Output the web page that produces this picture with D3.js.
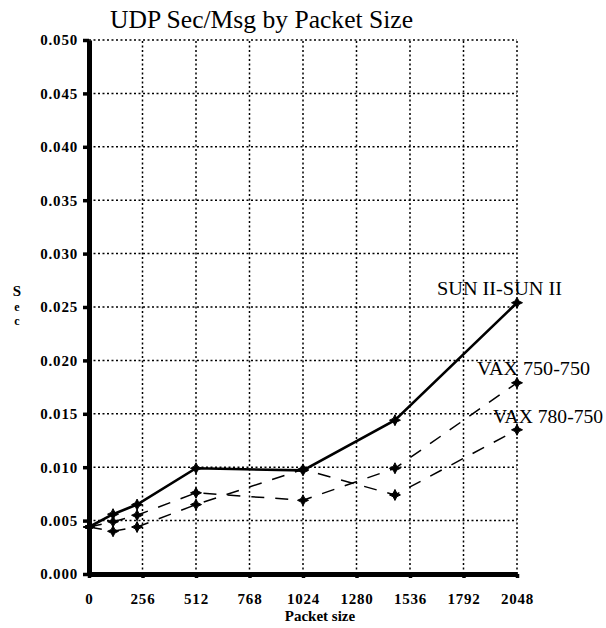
<!DOCTYPE html>
<html>
<head>
<meta charset="utf-8">
<script src="https://cdn.jsdelivr.net/npm/d3@7"></script>
<style>
  html, body { margin: 0; padding: 0; background: #fff; }
  svg { display: block; }
</style>
</head>
<body>
<script>
// ---- data ----
const packetSizes = [0, 115, 230, 512, 1024, 1464, 2048];
const sunSun   = [0.0044, 0.0056, 0.0065, 0.0099, 0.0097, 0.0144, 0.0254];
const vax750   = [0.0044, 0.0049, 0.0055, 0.0076, 0.0069, 0.0099, 0.0179];
const vax780   = [0.0044, 0.0040, 0.0044, 0.0065, 0.0098, 0.0074, 0.0135];
const seriesNames = ["SUN II-SUN II", "VAX 750-750", "VAX 780-750"];
const xTickValues = [0, 256, 512, 768, 1024, 1280, 1536, 1792, 2048];
const xTickLabels = ["0", "256", "512", "768", "1024", "1280", "1536", "1792", "2048"];
const yTickValues = [0, 0.005, 0.01, 0.015, 0.02, 0.025, 0.03, 0.035, 0.04, 0.045, 0.05];
const yTickLabels = ["0.000", "0.005", "0.010", "0.015", "0.020", "0.025", "0.030", "0.035", "0.040", "0.045", "0.050"];
const titleText = "UDP Sec/Msg by Packet Size";
const xTitle = "Packet size";
const yTitle = ["S", "e", "c"];

// ---- layout ----
const W = 606, H = 628;
const svg = d3.select("body").append("svg").attr("width", W).attr("height", H)
  .style("background", "#fff");

const x = d3.scaleLinear().domain([0, 2048]).range([89, 517]);
const y = d3.scaleLinear().domain([0, 0.05]).range([574, 40]);

const serif = "'Liberation Serif', 'Times New Roman', serif";

// grid
const grid = svg.append("g").attr("stroke", "#000").attr("stroke-width", 1.5)
  .attr("stroke-dasharray", "2,2.5").attr("fill", "none");
grid.selectAll("line.h").data(yTickValues.slice(1)).join("line")
  .attr("x1", x(0)).attr("x2", x(2048)).attr("y1", d => y(d)).attr("y2", d => y(d));
grid.selectAll("line.v").data(xTickValues.slice(1)).join("line")
  .attr("class", "v")
  .attr("y1", y(0)).attr("y2", y(0.05)).attr("x1", d => x(d)).attr("x2", d => x(d));

// axes
const yAxis = d3.axisLeft(y).tickValues(yTickValues)
  .tickFormat((d, i) => yTickLabels[i]).tickSize(6).tickPadding(5).tickSizeOuter(0);
const gy = svg.append("g").attr("transform", `translate(${x(0)},0)`).call(yAxis)
  .attr("font-family", serif);
gy.select(".domain").attr("stroke-width", 5).attr("stroke", "#000");
gy.selectAll(".tick line").attr("stroke-width", 3.5);
gy.selectAll(".tick text").attr("font-family", serif).attr("font-weight", "bold")
  .attr("font-size", 15).attr("letter-spacing", 0.8).attr("fill", "#000");

const xAxis = d3.axisBottom(x).tickValues(xTickValues)
  .tickFormat((d, i) => xTickLabels[i]).tickSize(4).tickPadding(15).tickSizeOuter(0);
const gx = svg.append("g").attr("transform", `translate(0,${y(0)})`).call(xAxis)
  .attr("font-family", serif);
gx.select(".domain").attr("stroke-width", 5).attr("stroke", "#000");
gx.selectAll(".tick line").attr("stroke-width", 3.5);
gx.selectAll(".tick text").attr("font-family", serif).attr("font-weight", "bold")
  .attr("font-size", 15).attr("letter-spacing", 0.8).attr("fill", "#000");

// lines
const makeData = vals => packetSizes.map((p, i) => [p, vals[i]]);
const line = d3.line().x(d => x(d[0])).y(d => y(d[1]));

const series = [
  { name: seriesNames[0], vals: sunSun, width: 2.6, dash: null },
  { name: seriesNames[1], vals: vax750, width: 1.5, dash: "13,11" },
  { name: seriesNames[2], vals: vax780, width: 1.5, dash: "13,11" }
];

const star = "M0,-5.5 L1.8,-1.8 L5.5,0 L1.8,1.8 L0,5.5 L-1.8,1.8 L-5.5,0 L-1.8,-1.8 Z";

series.slice().reverse().forEach(s => {
  const data = makeData(s.vals);
  svg.append("path").datum(data).attr("d", line)
    .attr("fill", "none").attr("stroke", "#000").attr("stroke-width", s.width)
    .attr("stroke-dasharray", s.dash);
  svg.append("g").selectAll("path").data(data).join("path")
    .attr("d", star)
    .attr("transform", d => `translate(${x(d[0])},${y(d[1])})`)
    .attr("fill", "#000").attr("stroke", "#000").attr("stroke-width", 1);
});

// series labels
const labels = [
  { text: seriesNames[0], x: 437, y: 295, len: 125 },
  { text: seriesNames[1], x: 477, y: 375, len: 113 },
  { text: seriesNames[2], x: 493, y: 423, len: 110 }
];
svg.append("g").selectAll("text").data(labels).join("text")
  .attr("x", d => d.x).attr("y", d => d.y)
  .attr("font-family", serif).attr("font-size", 18)
  .attr("textLength", d => d.len).attr("lengthAdjust", "spacingAndGlyphs")
  .text(d => d.text);

// title
svg.append("text").attr("x", 110).attr("y", 28)
  .attr("font-family", serif).attr("font-size", 25)
  .attr("textLength", 303).attr("lengthAdjust", "spacingAndGlyphs")
  .text(titleText);

// x title
svg.append("text").attr("x", 320).attr("y", 621).attr("text-anchor", "middle")
  .attr("font-family", serif).attr("font-weight", "bold").attr("font-size", 15)
  .text(xTitle);

// y title (stacked letters)
const yTitleY = [296, 311, 325];
const yTitleSize = [15, 12, 12];
svg.append("g").selectAll("text").data(yTitle).join("text")
  .attr("x", 17).attr("y", (d, i) => yTitleY[i]).attr("text-anchor", "middle")
  .attr("font-family", serif).attr("font-weight", "bold")
  .attr("font-size", (d, i) => yTitleSize[i])
  .text(d => d);
</script>
</body>
</html>
